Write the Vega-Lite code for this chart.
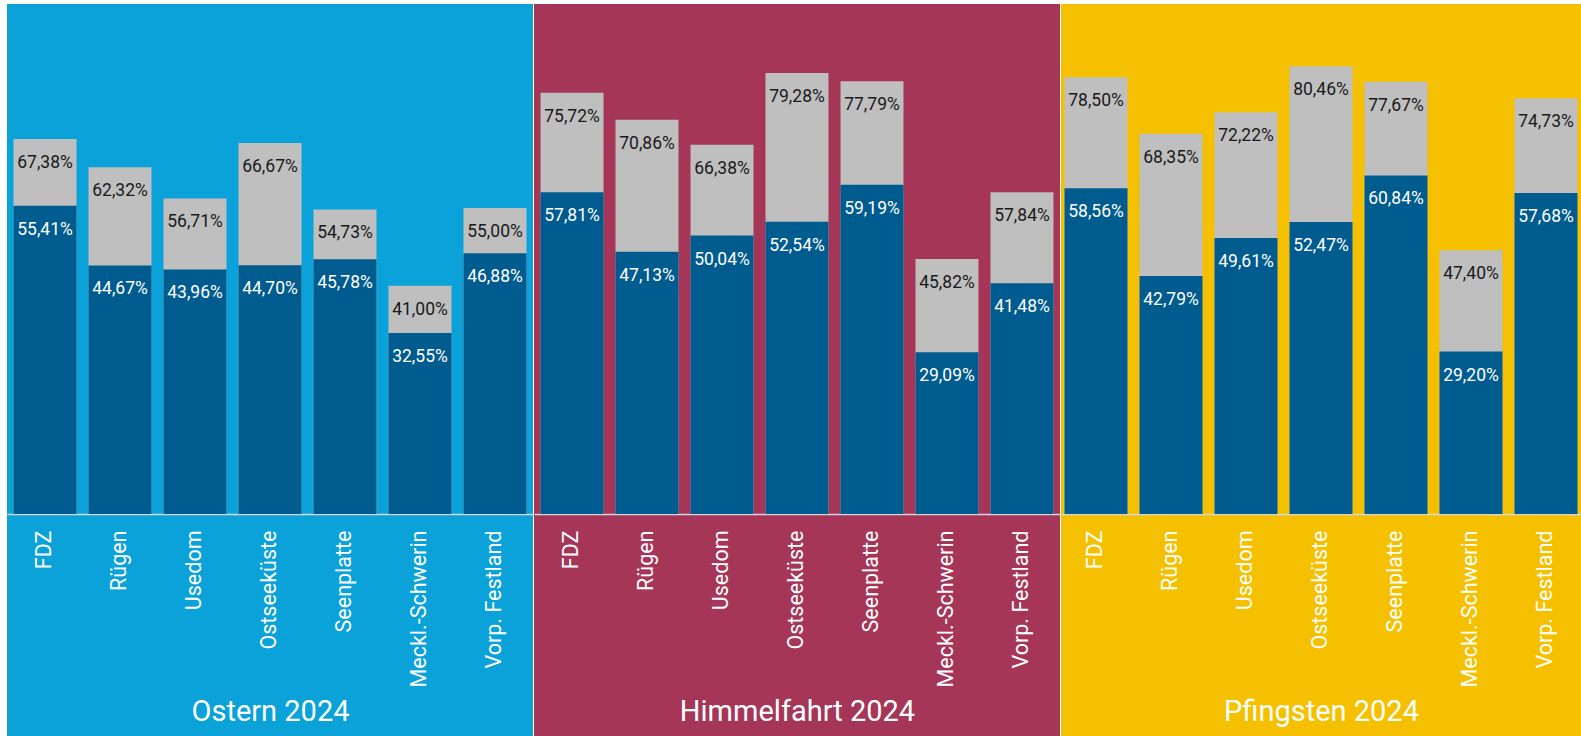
{
  "$schema": "https://vega.github.io/schema/vega-lite/v6.json",
  "padding": {"left": 7, "top": 4, "right": 0, "bottom": 0},
  "background": "#ffffff",
  "spacing": 1,
  "config": {
    "locale": {"number": {"decimal": ",", "thousands": ".", "grouping": [3], "currency": ["", " €"]}},
    "font": "Roboto",
    "view": {"stroke": null},
    "axis": {"grid": false}
  },
  "data": {"values": [
    {"event": "Ostern 2024", "region": "FDZ", "high": 0.6738, "low": 0.5541},
    {"event": "Ostern 2024", "region": "Rügen", "high": 0.6232, "low": 0.4467},
    {"event": "Ostern 2024", "region": "Usedom", "high": 0.5671, "low": 0.4396},
    {"event": "Ostern 2024", "region": "Ostseeküste", "high": 0.6667, "low": 0.4470},
    {"event": "Ostern 2024", "region": "Seenplatte", "high": 0.5473, "low": 0.4578},
    {"event": "Ostern 2024", "region": "Meckl.-Schwerin", "high": 0.4100, "low": 0.3255},
    {"event": "Ostern 2024", "region": "Vorp. Festland", "high": 0.5500, "low": 0.4688},
    {"event": "Himmelfahrt 2024", "region": "FDZ", "high": 0.7572, "low": 0.5781},
    {"event": "Himmelfahrt 2024", "region": "Rügen", "high": 0.7086, "low": 0.4713},
    {"event": "Himmelfahrt 2024", "region": "Usedom", "high": 0.6638, "low": 0.5004},
    {"event": "Himmelfahrt 2024", "region": "Ostseeküste", "high": 0.7928, "low": 0.5254},
    {"event": "Himmelfahrt 2024", "region": "Seenplatte", "high": 0.7779, "low": 0.5919},
    {"event": "Himmelfahrt 2024", "region": "Meckl.-Schwerin", "high": 0.4582, "low": 0.2909},
    {"event": "Himmelfahrt 2024", "region": "Vorp. Festland", "high": 0.5784, "low": 0.4148},
    {"event": "Pfingsten 2024", "region": "FDZ", "high": 0.7850, "low": 0.5856},
    {"event": "Pfingsten 2024", "region": "Rügen", "high": 0.6835, "low": 0.4279},
    {"event": "Pfingsten 2024", "region": "Usedom", "high": 0.7222, "low": 0.4961},
    {"event": "Pfingsten 2024", "region": "Ostseeküste", "high": 0.8046, "low": 0.5247},
    {"event": "Pfingsten 2024", "region": "Seenplatte", "high": 0.7767, "low": 0.6084},
    {"event": "Pfingsten 2024", "region": "Meckl.-Schwerin", "high": 0.4740, "low": 0.2920},
    {"event": "Pfingsten 2024", "region": "Vorp. Festland", "high": 0.7473, "low": 0.5768}
  ]},
  "hconcat": [
    {
      "width": 526, "height": 732,
      "view": {"fill": "#0ba1d9", "stroke": null},
      "transform": [{"filter": "datum.event === 'Ostern 2024'"}],
      "encoding": {
        "x": {"field": "region", "type": "nominal", "sort": null,
          "scale": {"paddingInner": 0.16, "paddingOuter": 0.087},
          "axis": {"title": "Ostern 2024", "offset": -222, "ticks": false, "labelAngle": -90, "labelPadding": 16,
            "labelFontSize": 21.5, "labelColor": "#ffffff", "labelFont": "Roboto", "labelLimit": 0, "labelOverlap": false,
            "domainColor": "#d4d8dc", "domainWidth": 1.5,
            "titleFontSize": 29, "titleColor": "#ffffff", "titleFont": "Roboto", "titleFontWeight": "normal",
            "titleY": 206, "titleBaseline": "alphabetic"}}
      },
      "layer": [
        {"mark": {"type": "bar", "color": "#bfbfbf"},
         "encoding": {"y": {"field": "high", "type": "quantitative", "scale": {"domain": [-0.399, 0.9166], "nice": false, "zero": false}, "axis": null}, "y2": {"datum": 0}}},
        {"mark": {"type": "bar", "color": "#005b8e"},
         "encoding": {"y": {"field": "low", "type": "quantitative"}, "y2": {"datum": 0}}},
        {"mark": {"type": "text", "baseline": "middle", "dy": 24, "fontSize": 17.5, "font": "Roboto", "color": "#1a1a1a"},
         "encoding": {"y": {"field": "high", "type": "quantitative"}, "text": {"field": "high", "type": "quantitative", "format": ".2%"}}},
        {"mark": {"type": "text", "baseline": "middle", "dy": 24, "fontSize": 17.5, "font": "Roboto", "color": "#ffffff"},
         "encoding": {"y": {"field": "low", "type": "quantitative"}, "text": {"field": "low", "type": "quantitative", "format": ".2%"}}}
      ]
    },
    {
      "width": 526, "height": 732,
      "view": {"fill": "#a53657", "stroke": null},
      "transform": [{"filter": "datum.event === 'Himmelfahrt 2024'"}],
      "encoding": {
        "x": {"field": "region", "type": "nominal", "sort": null,
          "scale": {"paddingInner": 0.16, "paddingOuter": 0.087},
          "axis": {"title": "Himmelfahrt 2024", "offset": -222, "ticks": false, "labelAngle": -90, "labelPadding": 16,
            "labelFontSize": 21.5, "labelColor": "#ffffff", "labelFont": "Roboto", "labelLimit": 0, "labelOverlap": false,
            "domainColor": "#d4d8dc", "domainWidth": 1.5,
            "titleFontSize": 29, "titleColor": "#ffffff", "titleFont": "Roboto", "titleFontWeight": "normal",
            "titleY": 206, "titleBaseline": "alphabetic"}}
      },
      "layer": [
        {"mark": {"type": "bar", "color": "#bfbfbf"},
         "encoding": {"y": {"field": "high", "type": "quantitative", "scale": {"domain": [-0.399, 0.9166], "nice": false, "zero": false}, "axis": null}, "y2": {"datum": 0}}},
        {"mark": {"type": "bar", "color": "#005b8e"},
         "encoding": {"y": {"field": "low", "type": "quantitative"}, "y2": {"datum": 0}}},
        {"mark": {"type": "text", "baseline": "middle", "dy": 24, "fontSize": 17.5, "font": "Roboto", "color": "#1a1a1a"},
         "encoding": {"y": {"field": "high", "type": "quantitative"}, "text": {"field": "high", "type": "quantitative", "format": ".2%"}}},
        {"mark": {"type": "text", "baseline": "middle", "dy": 24, "fontSize": 17.5, "font": "Roboto", "color": "#ffffff"},
         "encoding": {"y": {"field": "low", "type": "quantitative"}, "text": {"field": "low", "type": "quantitative", "format": ".2%"}}}
      ]
    },
    {
      "width": 520, "height": 732,
      "view": {"fill": "#f5c000", "stroke": null},
      "transform": [{"filter": "datum.event === 'Pfingsten 2024'"}],
      "encoding": {
        "x": {"field": "region", "type": "nominal", "sort": null,
          "scale": {"paddingInner": 0.16, "paddingOuter": 0.047},
          "axis": {"title": "Pfingsten 2024", "offset": -222, "ticks": false, "labelAngle": -90, "labelPadding": 16,
            "labelFontSize": 21.5, "labelColor": "#ffffff", "labelFont": "Roboto", "labelLimit": 0, "labelOverlap": false,
            "domainColor": "#d4d8dc", "domainWidth": 1.5,
            "titleFontSize": 29, "titleColor": "#ffffff", "titleFont": "Roboto", "titleFontWeight": "normal",
            "titleY": 206, "titleBaseline": "alphabetic"}}
      },
      "layer": [
        {"mark": {"type": "bar", "color": "#bfbfbf"},
         "encoding": {"y": {"field": "high", "type": "quantitative", "scale": {"domain": [-0.399, 0.9166], "nice": false, "zero": false}, "axis": null}, "y2": {"datum": 0}}},
        {"mark": {"type": "bar", "color": "#005b8e"},
         "encoding": {"y": {"field": "low", "type": "quantitative"}, "y2": {"datum": 0}}},
        {"mark": {"type": "text", "baseline": "middle", "dy": 24, "fontSize": 17.5, "font": "Roboto", "color": "#1a1a1a"},
         "encoding": {"y": {"field": "high", "type": "quantitative"}, "text": {"field": "high", "type": "quantitative", "format": ".2%"}}},
        {"mark": {"type": "text", "baseline": "middle", "dy": 24, "fontSize": 17.5, "font": "Roboto", "color": "#ffffff"},
         "encoding": {"y": {"field": "low", "type": "quantitative"}, "text": {"field": "low", "type": "quantitative", "format": ".2%"}}}
      ]
    }
  ]
}
